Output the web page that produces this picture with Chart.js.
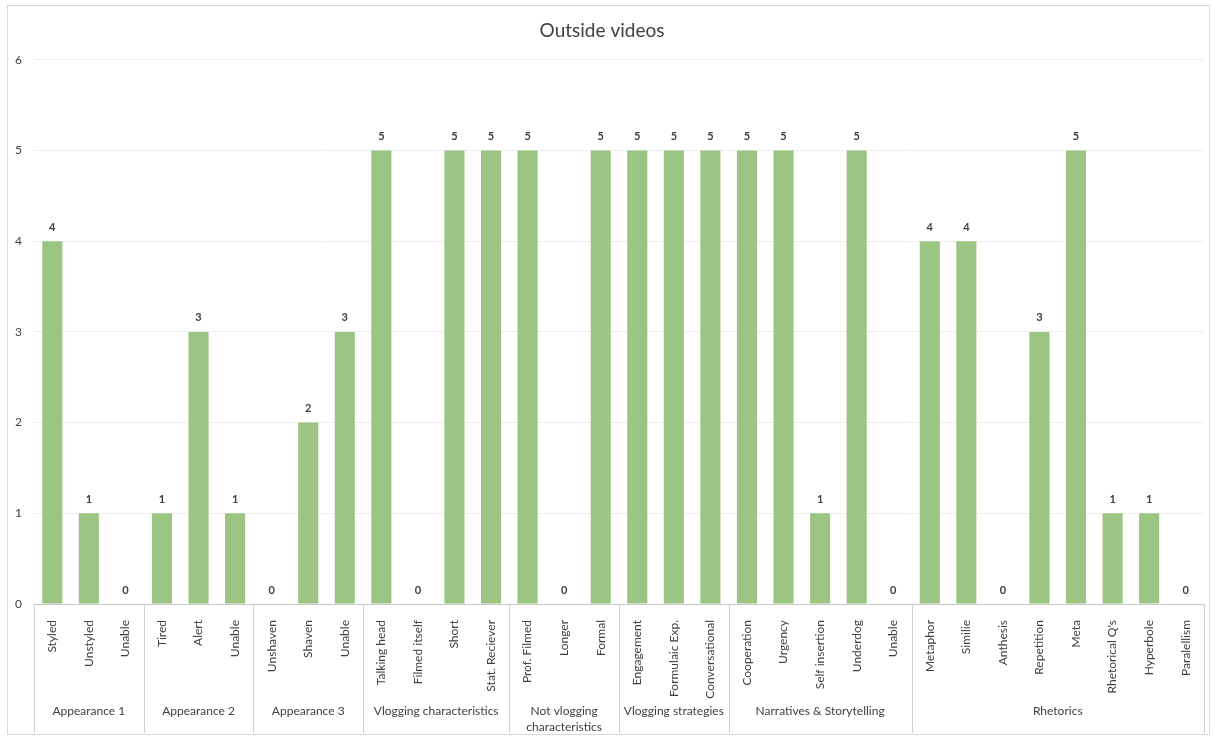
<!DOCTYPE html>
<html>
<head>
<meta charset="utf-8">
<script src="https://cdn.jsdelivr.net/npm/chart.js@4.4.1/dist/chart.umd.min.js"></script>
<style>
  html, body { margin: 0; padding: 0; background: #fff; }
  #wrap { position: relative; width: 1216px; height: 737px; }
</style>
</head>
<body>
<div id="wrap"><canvas id="myChart"></canvas></div>
<script>
const categories = [
  "Styled", "Unstyled", "Unable",
  "Tired", "Alert", "Unable",
  "Unshaven", "Shaven", "Unable",
  "Talking head", "Filmed itself", "Short", "Stat. Reciever",
  "Prof. Filmed", "Longer", "Formal",
  "Engagement", "Formulaic Exp.", "Conversational",
  "Cooperation", "Urgency", "Self insertion", "Underdog", "Unable",
  "Metaphor", "Similie", "Anthesis", "Repetition", "Meta", "Rhetorical Q's", "Hyperbole", "Paralellism"
];
const values = [
  4, 1, 0,
  1, 3, 1,
  0, 2, 3,
  5, 0, 5, 5,
  5, 0, 5,
  5, 5, 5,
  5, 5, 1, 5, 0,
  4, 4, 0, 3, 5, 1, 1, 0
];
const groupNames = [
  ["Appearance 1"], ["Appearance 2"], ["Appearance 3"], ["Vlogging characteristics"],
  ["Not vlogging", "characteristics"], ["Vlogging strategies"], ["Narratives & Storytelling"], ["Rhetorics"]
];
const groupSizes = [3, 3, 3, 4, 3, 3, 5, 8];
const yTicks = [0, 1, 2, 3, 4, 5, 6];

const FONT = "Lato, 'Open Sans', sans-serif";
const TEXT = "#404040";

// value labels above bars
const barLabels = {
  id: "barLabels",
  afterDatasetsDraw(chart) {
    const ctx = chart.ctx;
    const meta = chart.getDatasetMeta(0);
    ctx.save();
    ctx.font = "bold 11px " + FONT;
    ctx.fillStyle = TEXT;
    ctx.textAlign = "center";
    ctx.textBaseline = "middle";
    meta.data.forEach((bar, i) => {
      ctx.fillText(String(values[i]), bar.x, bar.y - 14);
    });
    ctx.restore();
  }
};

// group separators + group names under the category labels, plus outer frame
const groupAxis = {
  id: "groupAxis",
  afterDraw(chart) {
    const ctx = chart.ctx;
    const x = chart.scales.x;
    const yAxis = chart.scales.y.getPixelForValue(0);
    ctx.save();
    ctx.strokeStyle = "#d0d0d0";
    ctx.lineWidth = 1;
    let start = 0;
    const edges = [];
    groupSizes.forEach(n => {
      edges.push(x.getPixelForValue(start) - (x.getPixelForValue(1) - x.getPixelForValue(0)) / 2);
      start += n;
    });
    edges.push(x.getPixelForValue(start - 1) + (x.getPixelForValue(1) - x.getPixelForValue(0)) / 2);
    edges.forEach(px => {
      const p = Math.round(px) + 0.5;
      ctx.beginPath();
      ctx.moveTo(p, yAxis);
      ctx.lineTo(p, 733);
      ctx.stroke();
    });
    ctx.font = "12px " + FONT;
    ctx.fillStyle = TEXT;
    ctx.textAlign = "center";
    ctx.textBaseline = "middle";
    groupNames.forEach((lines, g) => {
      const cx = (edges[g] + edges[g + 1]) / 2;
      lines.forEach((t, k) => ctx.fillText(t, cx, 711 + k * 16));
    });
    // chart frame
    ctx.strokeStyle = "#d9d9d9";
    ctx.strokeRect(7.5, 5.5, 1202, 729);
    ctx.restore();
  }
};

const context = document.getElementById("myChart").getContext("2d");
new Chart(context, {
  type: "bar",
  data: {
    labels: categories,
    datasets: [
      {
        label: "Outside videos",
        data: values,
        backgroundColor: "#9cc583",
        categoryPercentage: 1,
        barPercentage: 0.55
      }
    ]
  },
  options: {
    responsive: true,
    maintainAspectRatio: false,
    animation: false,
    layout: { padding: { left: 0, right: 12, top: 0, bottom: 0 } },
    plugins: {
      legend: { display: false },
      tooltip: { enabled: false },
      title: {
        display: true,
        text: "Outside videos",
        color: TEXT,
        font: { family: FONT, size: 19, weight: "normal" },
        padding: { top: 19, bottom: 18 }
      }
    },
    scales: {
      x: {
        grid: { display: false },
        border: { display: true, color: "#c9c9c9" },
        ticks: {
          color: TEXT,
          font: { family: FONT, size: 12 },
          minRotation: 90,
          maxRotation: 90,
          autoSkip: false,
          padding: 8
        },
        afterFit(scale) { scale.height = 133; }
      },
      y: {
        min: 0,
        max: 6,
        grid: { color: "#ededed", drawTicks: false },
        border: { display: false },
        afterBuildTicks(scale) { scale.ticks = yTicks.map(v => ({ value: v })); },
        ticks: {
          color: TEXT,
          font: { family: FONT, size: 12 },
          padding: 12
        },
        afterFit(scale) { scale.width = 34; }
      }
    }
  },
  plugins: [barLabels, groupAxis]
});
</script>
</body>
</html>
